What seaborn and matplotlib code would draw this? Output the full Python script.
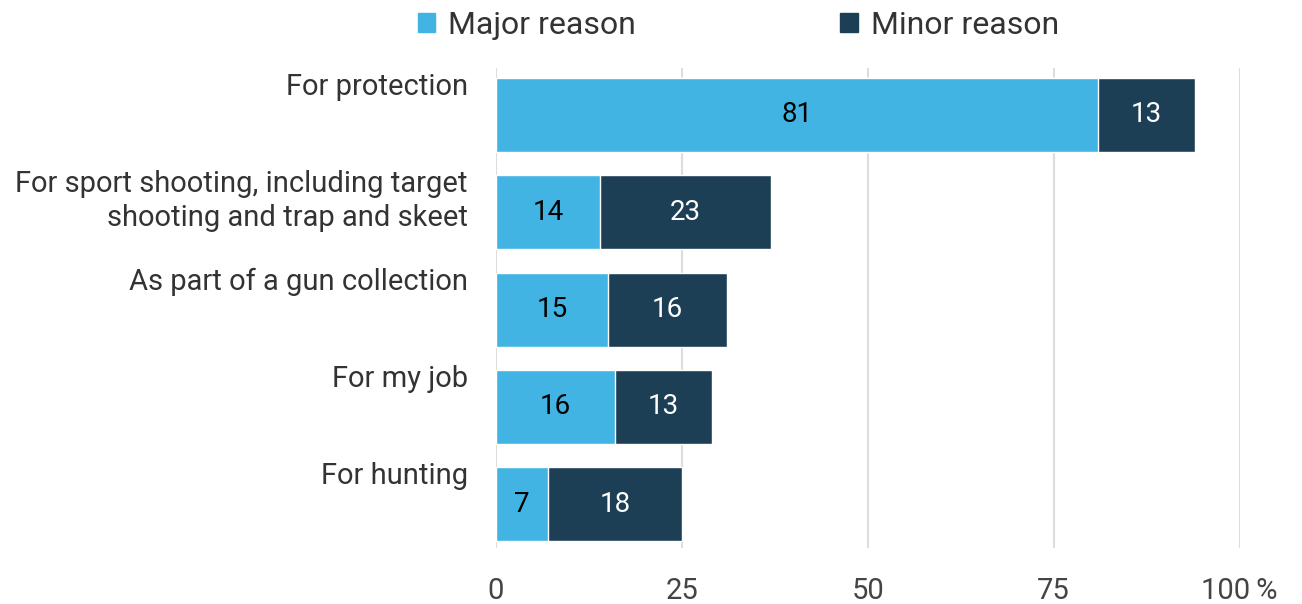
import seaborn as sns
import matplotlib.pyplot as plt
import pandas as pd
from matplotlib.patches import Patch
from matplotlib.transforms import blended_transform_factory

categories = [
    "For protection",
    "For sport shooting, including target\nshooting and trap and skeet",
    "As part of a gun collection",
    "For my job",
    "For hunting",
]
major = [81, 14, 15, 16, 7]
minor = [13, 23, 16, 13, 18]
ticks = [0, 25, 50, 75, 100]
tick_labels = ["0", "25", "50", "75", "100\u2009%"]

light = "#41B4E3"
dark = "#1D3F55"

sns.set_theme(style="white")
plt.rcParams["font.family"] = ["Roboto", "DejaVu Sans"]

df = pd.DataFrame({"cat": categories, "major": major, "minor": minor})
df["total"] = df["major"] + df["minor"]

fig = plt.figure(figsize=(13.02, 6.04), dpi=100)
ax = fig.add_axes([0.381, 0.0927, 0.571, 0.7943])

bw = 0.76
sns.barplot(data=df, y="cat", x="total", orient="h", color=dark, width=bw,
            saturation=1, ax=ax, zorder=3)
sns.barplot(data=df, y="cat", x="major", orient="h", color=light, width=bw,
            saturation=1, ax=ax, zorder=4)

for i, (mj, mn) in enumerate(zip(major, minor)):
    ax.text(mj / 2, i, str(mj), ha="center", va="center", fontsize=20,
            color="black", zorder=5)
    ax.text(mj + mn / 2, i, str(mn), ha="center", va="center", fontsize=20,
            color="white", zorder=5)

# category labels aligned to the top of each bar
trans = blended_transform_factory(ax.transAxes, ax.transData)
for i, c in enumerate(categories):
    ax.text(-0.038, i - bw / 2 - 0.05, c, transform=trans, ha="right", va="top",
            fontsize=21, color="#333333", linespacing=1.25)

ax.set_yticks([])
ax.set_ylabel("")
ax.set_xlabel("")
ax.set_xlim(0, 100)
ax.set_ylim(4.45, -0.48)
ax.set_xticks(ticks)
ax.set_xticklabels(tick_labels, fontsize=21, color="#444444")
ax.tick_params(axis="x", length=0, pad=21)
ax.xaxis.grid(True, color="#DDDDDD", linewidth=1.5, zorder=0)
ax.set_axisbelow(True)
for s in ax.spines.values():
    s.set_visible(False)

handles = [Patch(color=light, label="Major reason"),
           Patch(color=dark, label="Minor reason")]
fig.legend(handles=handles, loc="center", bbox_to_anchor=(0.567, 0.958), ncol=2,
           frameon=False, fontsize=23, handlelength=0.55, handleheight=0.55,
           handletextpad=0.4, columnspacing=6.4, labelcolor="#333333")

fig.savefig("out.png", dpi=100)
